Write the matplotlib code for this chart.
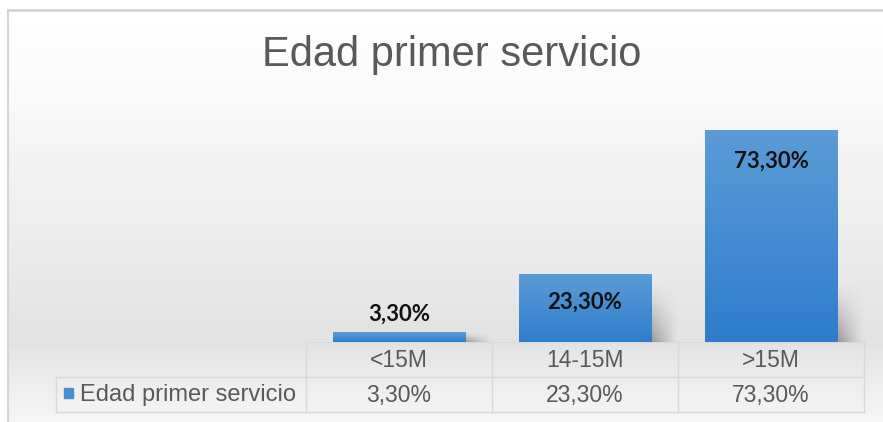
import numpy as np
import matplotlib
matplotlib.use("Agg")
import matplotlib.pyplot as plt
from matplotlib.colors import LinearSegmentedColormap

# datos
categorias = ["<15M", "14-15M", ">15M"]
valores = [3.3, 23.3, 73.3]
etiquetas = ["3,30%", "23,30%", "73,30%"]
serie = "Edad primer servicio"
titulo = "Edad primer servicio"

W, H = 883, 422
fig = plt.figure(figsize=(W / 100, H / 100), dpi=100)

# fondo en pixeles
bg = fig.add_axes([0, 0, 1, 1])
bg.set_xlim(0, W)
bg.set_ylim(H, 0)
bg.axis("off")

ys = np.arange(10, H)
g = np.interp(ys, [10, 120, 340, 380, 422], [255, 247, 226, 236, 246]) / 255
grad = np.repeat(g[:, None], 2, axis=1)
bg.imshow(grad, cmap="gray", vmin=0, vmax=1, extent=[8, W, H, 10], aspect="auto", zorder=0)
bg.plot([8, W], [10, 10], color="#d4d4d4", lw=2, zorder=1)
bg.plot([8, 8], [10, H], color="#d4d4d4", lw=1.5, zorder=1)

bg.text(452, 55, titulo, ha="center", va="center", fontsize=30, color="#595959",
        family="Liberation Sans")

# tabla de datos
x0, cw = 306, 186
top, mid, bot = 342, 377, 412
lc = "#d9d9d9"
bg.plot([x0, x0 + 3 * cw], [top, top], color=lc, lw=1)
bg.plot([56, x0 + 3 * cw], [mid, mid], color=lc, lw=1)
bg.plot([56, x0 + 3 * cw], [bot, bot], color=lc, lw=1)
bg.plot([56, 56], [mid, bot], color=lc, lw=1)
for i in range(4):
    bg.plot([x0 + i * cw, x0 + i * cw], [top, bot], color=lc, lw=1)
for i, (c, e) in enumerate(zip(categorias, etiquetas)):
    cx = x0 + cw * (i + 0.5)
    bg.text(cx, (top + mid) / 2 + 1, c, ha="center", va="center", fontsize=16.5,
            color="#595959", family="Liberation Sans")
    bg.text(cx, (mid + bot) / 2 + 1, e, ha="center", va="center", fontsize=16.5,
            color="#595959", family="Liberation Sans")
bg.add_patch(plt.Rectangle((64, 388), 9, 10, color="#4a8fd4"))
bg.text(80, (mid + bot) / 2 + 1, serie, ha="left", va="center", fontsize=17,
        color="#595959", family="Liberation Sans")

# grafico de barras
ax = fig.add_axes([x0 / W, (H - top) / H, 3 * cw / W, 230.3 / H])
ax.patch.set_visible(False)
ax.axis("off")
ax.set_xlim(-0.5, 2.5)
ax.set_ylim(0, 80)

x = np.arange(len(categorias))
bars = ax.bar(x, valores, width=0.71, color="none", zorder=3)

cmap = LinearSegmentedColormap.from_list("azul", ["#2e7dcc", "#5b9cd7"])
ramp = np.linspace(1, 0, 100)[:, None]
for b in bars:
    bx, bw, bh = b.get_x(), b.get_width(), b.get_height()
    ax.imshow(ramp, cmap=cmap, vmin=0, vmax=1, extent=[bx, bx + bw, 0, bh],
              aspect="auto", zorder=3)
    # sombra suave a la derecha
    sh = min(bh, 20.5)
    sw = 0.15
    yy = np.linspace(0, 1, 60)[:, None]
    xx = np.linspace(1, 0, 30)[None, :]
    a = (yy ** 1.3) * (xx ** 1.2) * 0.6
    img = np.zeros((60, 30, 4))
    img[..., :3] = 0.4
    img[..., 3] = a
    ax.imshow(img, extent=[bx + bw, bx + bw + sw, 0, sh], aspect="auto", zorder=2,
              interpolation="bilinear")

offs = [13, -20, -22]
for xi, v, e, o in zip(x, valores, etiquetas, offs):
    ax.annotate(e, (xi, v), xytext=(0, o), textcoords="offset points",
                ha="center", va="center", fontsize=16, fontweight="bold",
                color="#111111", family="Lato", zorder=5)

ax.set_xlim(-0.5, 2.5)
ax.set_ylim(0, 80)

fig.savefig("out.png", dpi=100)
